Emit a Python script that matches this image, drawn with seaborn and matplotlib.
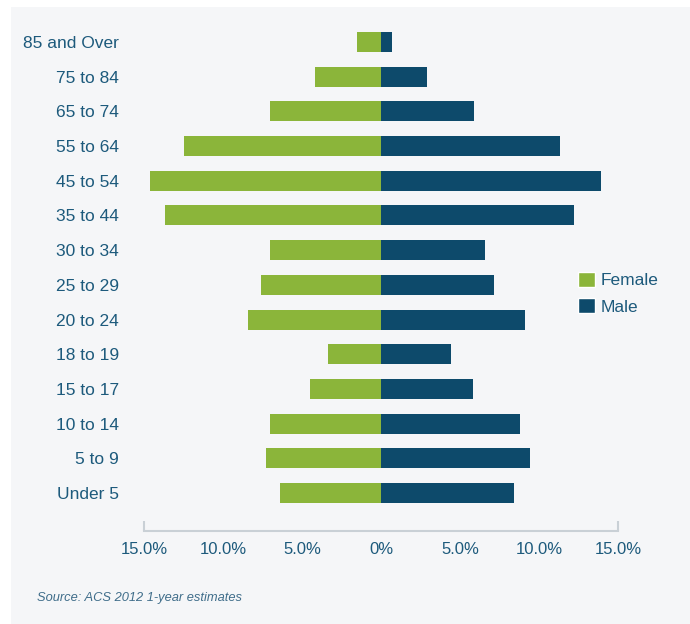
import matplotlib
matplotlib.use("Agg")
import matplotlib.pyplot as plt
import numpy as np
import pandas as pd
import seaborn as sns
from matplotlib.patches import Rectangle, Patch
from matplotlib.ticker import FixedLocator, FuncFormatter

# Age groups, top to bottom as in the chart
AGE_GROUPS = ["85 and Over", "75 to 84", "65 to 74", "55 to 64", "45 to 54",
              "35 to 44", "30 to 34", "25 to 29", "20 to 24", "18 to 19",
              "15 to 17", "10 to 14", "5 to 9", "Under 5"]
# Percent of population
FEMALE = [1.5, 4.2, 7.0, 12.5, 14.6, 13.7, 7.0, 7.6, 8.4, 3.35, 4.5, 7.0, 7.3, 6.4]
MALE = [0.7, 2.9, 5.9, 11.3, 13.9, 12.2, 6.6, 7.15, 9.1, 4.4, 5.8, 8.8, 9.4, 8.4]
X_TICKS = [-15, -10, -5, 0, 5, 10, 15]

GREEN = "#8bb53a"
NAVY = "#0d4a6b"
TEXT = "#1d5a7c"
PANEL = "#f5f6f8"

sns.set_theme(style="white")
plt.rcParams["font.family"] = ["Liberation Sans", "DejaVu Sans"]

df = pd.DataFrame({
    "age": AGE_GROUPS * 2,
    "pct": [-v for v in FEMALE] + MALE,
    "sex": ["Female"] * len(FEMALE) + ["Male"] * len(MALE),
})

W, H = 690, 624
fig = plt.figure(figsize=(W / 100, H / 100), dpi=100, facecolor="white")
# light panel behind the chart
fig.patches.append(Rectangle((11 / W, 0), 1, 1 - 7 / H, transform=fig.transFigure,
                             facecolor=PANEL, edgecolor="none", zorder=-5))

ax = fig.add_axes([144 / W, (H - 531) / H, 474 / W, 516.8 / H])
ax.set_facecolor("none")
ax.set_zorder(2)

sns.barplot(data=df, x="pct", y="age", hue="sex", order=AGE_GROUPS,
            palette={"Female": GREEN, "Male": NAVY}, dodge=False,
            width=0.577, saturation=1, linewidth=0, legend=False, ax=ax)

ax.set_xlim(-15, 15)
ax.set_ylim(len(AGE_GROUPS) - 1 + 1.095, -0.8)
ax.set_xlabel("")
ax.set_ylabel("")

for s in ["top", "right", "left"]:
    ax.spines[s].set_visible(False)
ax.spines["bottom"].set_color("#c9d0d6")
ax.spines["bottom"].set_linewidth(1.5)

# labels on every major tick, small end caps only at the two ends
ax.xaxis.remove_overlapping_locs = False
ax.xaxis.set_major_locator(FixedLocator(X_TICKS))
ax.xaxis.set_major_formatter(FuncFormatter(lambda v, p: "0%" if v == 0 else f"{abs(v):.1f}%"))
ax.xaxis.set_minor_locator(FixedLocator([X_TICKS[0], X_TICKS[-1]]))
ax.tick_params(axis="x", which="major", bottom=True, length=0, pad=8,
               labelsize=12, labelcolor=TEXT)
ax.tick_params(axis="x", which="minor", bottom=True, direction="in", length=7,
               width=1.5, color="#c9d0d6")
ax.tick_params(axis="y", length=0, pad=18, labelsize=12.5, labelcolor=TEXT)

handles = [Patch(facecolor=GREEN, label="Female"), Patch(facecolor=NAVY, label="Male")]
fig.legend(handles=handles, loc="upper left", bbox_to_anchor=(569 / W, 1 - 263 / H),
           bbox_transform=fig.transFigure, frameon=False, fontsize=12.5,
           labelcolor=TEXT, handlelength=1.0, handleheight=1.0,
           handletextpad=0.35, labelspacing=0.55, borderpad=0)

fig.text(37 / W, 1 - 598 / H, "Source: ACS 2012 1-year estimates", fontsize=9.3,
         style="italic", color="#3f6d8a", va="center", ha="left")

fig.savefig("out.png", dpi=100, facecolor="white")
